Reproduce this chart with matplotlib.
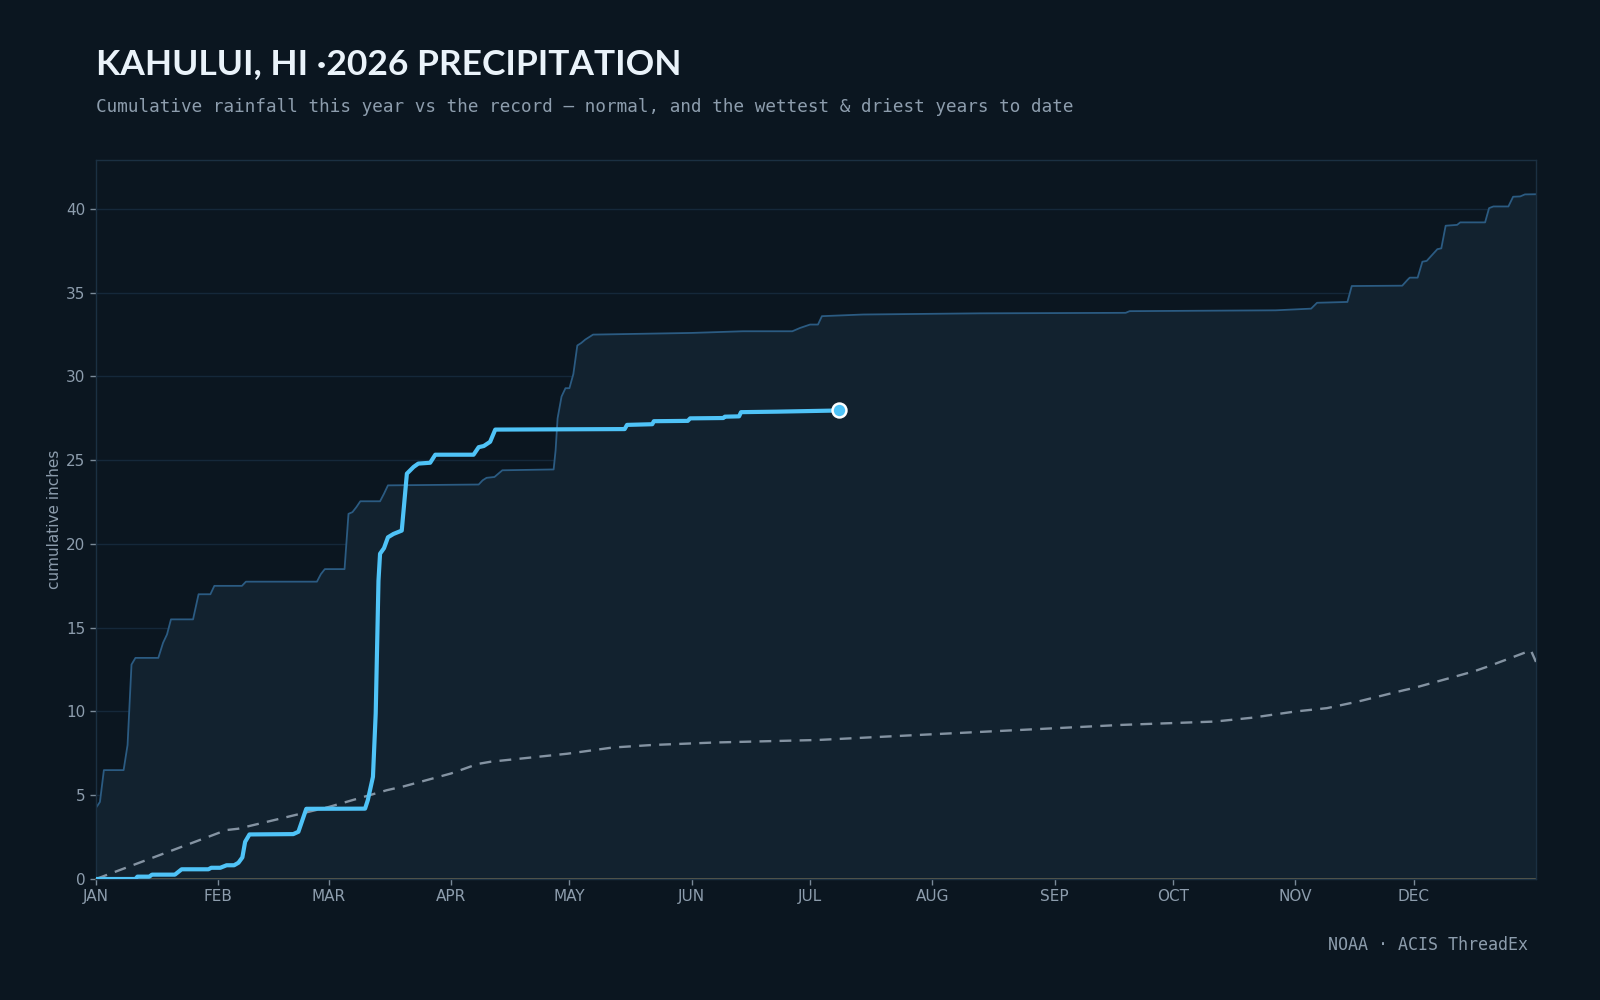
import matplotlib
matplotlib.use("Agg")
import matplotlib.pyplot as plt
import numpy as np

# ---- data ----
month_labels = ["JAN", "FEB", "MAR", "APR", "MAY", "JUN", "JUL", "AUG", "SEP", "OCT", "NOV", "DEC"]
month_starts = [0, 31, 59, 90, 120, 151, 181, 212, 243, 273, 304, 334]

current_days = [0, 10, 10.5, 13.5, 14.2, 20, 21.7, 28.5, 29.2, 31.5, 33.1, 35, 36.1, 37.1, 37.8, 38.9,
                50, 51.3, 53.3, 68.2, 68.9, 70.2, 70.9, 71.6, 72, 73, 74, 75.4, 77.5, 78.8, 80.5, 81.7,
                84.7, 86, 95.7, 97, 98.3, 99.9, 101.2, 134, 134.6, 141, 141.4, 150, 150.6, 159, 159.4,
                163, 163.5, 172.6, 188.3]
current_vals = [0, 0, 0.14, 0.14, 0.26, 0.26, 0.58, 0.58, 0.67, 0.67, 0.82, 0.82, 0.97, 1.29, 2.22, 2.66,
                2.68, 2.82, 4.19, 4.2, 4.71, 6.1, 9.9, 17.8, 19.42, 19.75, 20.4, 20.6, 20.8, 24.2, 24.6, 24.8,
                24.85, 25.33, 25.33, 25.78, 25.85, 26.1, 26.83, 26.86, 27.11, 27.15, 27.33, 27.35, 27.5, 27.52, 27.6,
                27.62, 27.87, 27.9, 27.97]

wettest_days = [0, 1, 2, 7, 8, 9, 10, 15.8, 17, 18, 19, 24.6, 26, 29, 30, 37, 38, 56, 57, 58, 63, 64, 65,
                66, 67, 72, 73, 74, 97, 98, 99, 101, 103, 116, 116.5, 117, 118, 119, 120, 121, 122, 123,
                124, 126, 151, 164, 176.5, 178.5, 181, 183, 184, 194.5, 224, 261, 262, 299, 308, 309.5,
                317.2, 318.3, 331.1, 332.4, 333, 335, 336.2, 337.3, 340, 341, 342.1, 345, 345.8, 352.1,
                353.1, 354.2, 358, 359.2, 361, 362.2, 365]
wettest_vals = [4.25, 4.6, 6.5, 6.5, 8.0, 12.8, 13.2, 13.2, 14.1, 14.6, 15.5, 15.5, 17.0, 17.0, 17.5,
                17.5, 17.75, 17.75, 18.2, 18.5, 18.5, 21.8, 21.9, 22.2, 22.55, 22.55, 23.0, 23.5, 23.55,
                23.8, 23.95, 24.0, 24.4, 24.45, 25.6, 27.5, 28.8, 29.3, 29.3, 30.15, 31.85, 32.0, 32.2,
                32.5, 32.6, 32.7, 32.7, 32.9, 33.1, 33.1, 33.6, 33.7, 33.77, 33.8, 33.9, 33.95, 34.05,
                34.4, 34.45, 35.4, 35.42, 35.76, 35.9, 35.9, 36.85, 36.9, 37.6, 37.65, 39.0, 39.05, 39.2,
                39.2, 40.05, 40.15, 40.15, 40.73, 40.75, 40.87, 40.88]

driest_days = [0, 365]
driest_vals = [0.0, 0.0]

normal_days = [0, 33, 36, 59, 73.7, 78, 90, 96.8, 100, 119.5, 131, 141, 157, 183, 208.5, 234.4, 260,
               283.6, 292.7, 304, 312, 320, 331.5, 334, 349.3, 353, 363.7, 365]
normal_vals = [0, 2.92, 3.0, 4.3, 5.3, 5.53, 6.3, 6.87, 7.0, 7.48, 7.85, 8.0, 8.15, 8.3, 8.6, 8.9, 9.2,
               9.4, 9.62, 10.0, 10.2, 10.6, 11.27, 11.4, 12.4, 12.7, 13.65, 12.96]

title = "KAHULUI, HI \u00b72026 PRECIPITATION"
subtitle = "Cumulative rainfall this year vs the record \u2014 normal, and the wettest & driest years to date"
source = "NOAA \u00b7 ACIS ThreadEx"

# ---- style ----
BG = "#0b1620"
FILL = "#12222f"
WET = "#2b5b82"
CUR = "#4fc3f7"
NORM = "#8493a2"
GRID = "#15283a"
SPINE = "#1b3042"
TXT = "#8d9dad"

fig = plt.figure(figsize=(16, 10), dpi=100, facecolor=BG)
ax = fig.add_axes([0.06, 0.121, 0.90, 0.719])
ax.set_facecolor(BG)

wd = np.array(wettest_days, dtype=float)
wv = np.array(wettest_vals, dtype=float)
dv = np.interp(wd, driest_days, driest_vals)
ax.fill_between(wd, dv, wv, color=FILL, lw=0, zorder=1)
ax.plot(wd, wv, color=WET, lw=1.3, zorder=2)
ax.plot(driest_days, driest_vals, color="#5f5d4c", lw=1.4, zorder=2, clip_on=False)
ax.plot(normal_days, normal_vals, color=NORM, lw=1.7, ls=(0, (5, 3.5)), zorder=3)
ax.plot(current_days, current_vals, color=CUR, lw=3.0, zorder=4, solid_joinstyle="round")
ax.plot([current_days[-1]], [current_vals[-1]], "o", ms=10, mfc=CUR, mec="white", mew=1.8, zorder=5)

ax.set_xlim(0, 365)
ax.set_ylim(0, max(wettest_vals) * 1.05)
ax.set_xticks(month_starts)
ax.set_xticklabels(month_labels)
ax.set_yticks([0, 5, 10, 15, 20, 25, 30, 35, 40])
ax.grid(axis="y", color=GRID, lw=1.0, zorder=0)
ax.set_axisbelow(True)
for s in ax.spines.values():
    s.set_color(SPINE)
    s.set_linewidth(1.0)
ax.tick_params(colors=TXT, labelsize=11, length=4, width=1)
ax.tick_params(axis="both", color="#7a8a98")
ax.set_ylabel("cumulative inches", color=TXT, fontsize=11, labelpad=3)

fig.text(0.06, 0.926, title, color="#eaf3fa", fontsize=25.5, fontweight="bold",
         family=["Lato", "DejaVu Sans"], va="baseline", ha="left")
fig.text(0.06, 0.888, subtitle, color=TXT, fontsize=12.7, family="DejaVu Sans Mono",
         va="baseline", ha="left")
fig.text(0.955, 0.050, source, color=TXT, fontsize=12, family="DejaVu Sans Mono",
         va="baseline", ha="right")

fig.savefig("out.png", dpi=100, facecolor=BG)
